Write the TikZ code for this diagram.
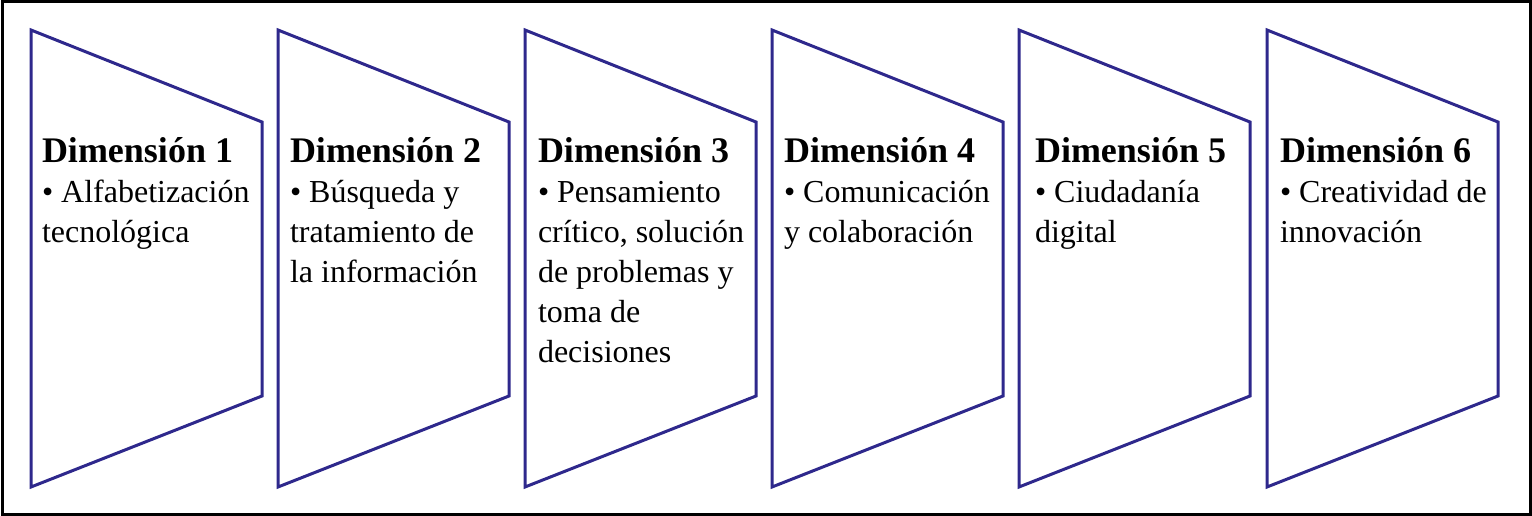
\documentclass[tikz,border=0pt]{standalone}
\usepackage{fontspec}
\setmainfont{Liberation Serif}
\definecolor{dimblue}{RGB}{46,40,140}
\tikzset{
  trap/.style={draw=dimblue, line width=3pt, line join=miter},
  frame/.style={draw=black, line width=3pt},
  dimtext/.style={anchor=base west, inner sep=0pt, outer sep=0pt}
}
\newcommand{\dimbody}[2]{\parbox[t]{300pt}{\raggedright\fontsize{32}{40}\selectfont{\fontsize{36}{40}\selectfont\bfseries #1}\\#2}}
\begin{document}
\begin{tikzpicture}[x=1pt,y=-1pt]
\useasboundingbox (0,0) rectangle (1532,516);
\draw[frame] (2,2) rectangle (1530,514);
\foreach \i/\L in {1/31,2/278,3/525,4/772,5/1019,6/1267}{
  \draw[trap] (\L,30) -- (\L+231,122) -- (\L+231,396) -- (\L,487) -- cycle;
}
\node[dimtext] (d1) at (42,163) {\dimbody{Dimensión 1}{• Alfabetización\\tecnológica}};
\node[dimtext] (d2) at (290,163) {\dimbody{Dimensión 2}{• Búsqueda y\\tratamiento de\\la información}};
\node[dimtext] (d3) at (538,163) {\dimbody{Dimensión 3}{• Pensamiento\\crítico, solución\\de problemas y\\toma de\\decisiones}};
\node[dimtext] (d4) at (784,163) {\dimbody{Dimensión 4}{• Comunicación\\y colaboración}};
\node[dimtext] (d5) at (1035,163) {\dimbody{Dimensión 5}{• Ciudadanía\\digital}};
\node[dimtext] (d6) at (1280,163) {\dimbody{Dimensión 6}{• Creatividad de\\innovación}};
\end{tikzpicture}
\end{document}
